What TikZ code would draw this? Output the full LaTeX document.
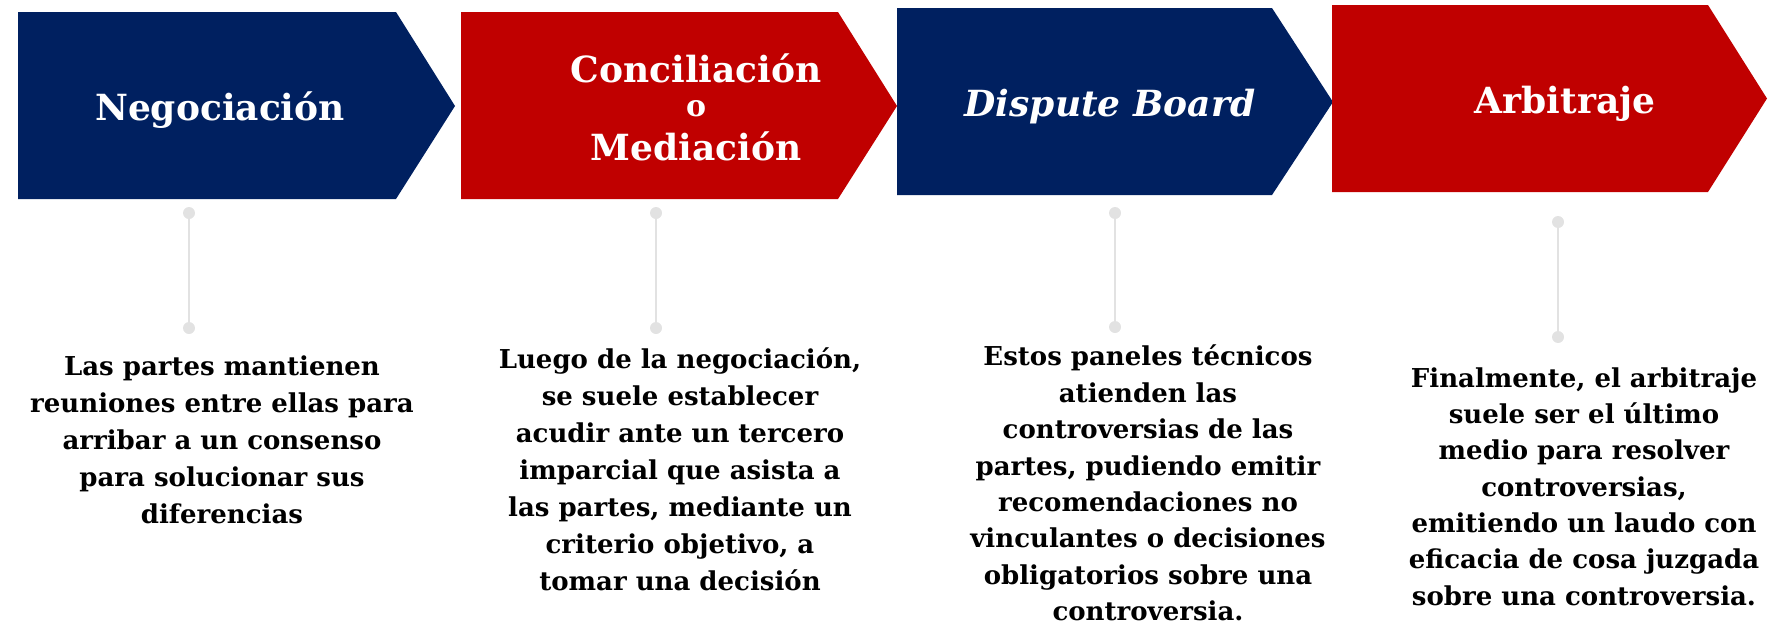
\documentclass[tikz,border=0pt]{standalone}
\usepackage{fontspec}
\setmainfont{DejaVu Serif}
\definecolor{navy}{HTML}{002060}
\definecolor{crimson}{HTML}{C00000}
\definecolor{dotgrey}{HTML}{E2E2E2}
\begin{document}
\begin{tikzpicture}[x=1pt,y=-1pt,
  title/.style={text=white,font=\bfseries\fontsize{36}{40}\selectfont,anchor=base,inner sep=0},
  body/.style={text=black,font=\bfseries\fontsize{26}{37}\selectfont,align=center,anchor=center,inner sep=0},
  dot/.style={circle,fill=dotgrey,minimum size=12pt,inner sep=0},
  vline/.style={draw=dotgrey,line width=2pt}]
\useasboundingbox (0,0) rectangle (1789,627);
% chevrons
\fill[navy] (18,12) -- (396,12) -- (455,106) -- (396,199) -- (18,199) -- cycle;
\fill[crimson] (461,12) -- (838,12) -- (897,106) -- (838,199) -- (461,199) -- cycle;
\fill[navy] (897,8) -- (1272,8) -- (1333,102) -- (1272,195) -- (897,195) -- cycle;
\fill[crimson] (1332,5) -- (1708,5) -- (1767,98.5) -- (1708,192) -- (1332,192) -- cycle;
% titles
\node[title] (t1) at (220,120) {Negociación};
\node[title] (t2a) at (696,82) {Conciliación};
\node[title,font=\bfseries\fontsize{30}{34}\selectfont] (t2b) at (696,116) {o};
\node[title] (t2c) at (696,160) {Mediación};
\node[title,font=\bfseries\itshape\fontsize{36}{40}\selectfont] (t3) at (1110,116) {Dispute Board};
\node[title] (t4) at (1565,113) {Arbitraje};
% connectors
\node[dot] (d1a) at (189,213) {};
\node[dot] (d1b) at (189,328) {};
\node[dot] (d2a) at (656,213) {};
\node[dot] (d2b) at (656,328) {};
\node[dot] (d3a) at (1115,213) {};
\node[dot] (d3b) at (1115,327) {};
\node[dot] (d4a) at (1558,222) {};
\node[dot] (d4b) at (1558,337) {};
\draw[vline] (d1a) -- (d1b);
\draw[vline] (d2a) -- (d2b);
\draw[vline] (d3a) -- (d3b);
\draw[vline] (d4a) -- (d4b);
% body texts
\node[body] (b1) at (222,440) {Las partes mantienen\\reuniones entre ellas para\\arribar a un consenso\\para solucionar sus\\diferencias};
\node[body] (b2) at (680,469) {Luego de la negociación,\\se suele establecer\\acudir ante un tercero\\imparcial que asista a\\las partes, mediante un\\criterio objetivo, a\\tomar una decisión};
\node[body,font=\bfseries\fontsize{26}{36.4}\selectfont] (b3) at (1148,483) {Estos paneles técnicos\\atienden las\\controversias de las\\partes, pudiendo emitir\\recomendaciones no\\vinculantes o decisiones\\obligatorios sobre una\\controversia.};
\node[body,font=\bfseries\fontsize{26}{36.3}\selectfont] (b4) at (1584,486.5) {Finalmente, el arbitraje\\suele ser el último\\medio para resolver\\controversias,\\emitiendo un laudo con\\eficacia de cosa juzgada\\sobre una controversia.};
\end{tikzpicture}
\end{document}
